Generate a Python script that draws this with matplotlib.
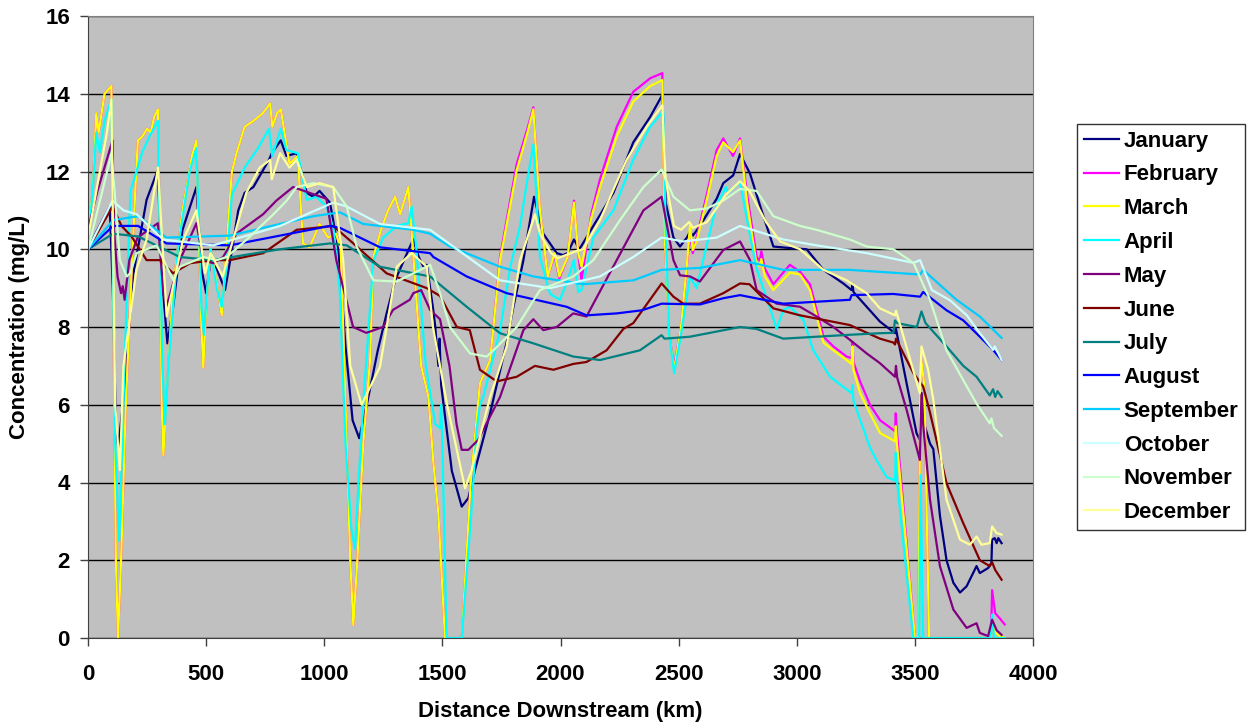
import matplotlib
matplotlib.use("Agg")
import matplotlib.pyplot as plt

months = ["January", "February", "March", "April", "May", "June", "July",
          "August", "September", "October", "November", "December"]
colors = ["#000080", "#FF00FF", "#FFFF00", "#00FFFF", "#800080", "#800000",
          "#008080", "#0000FF", "#00CCFF", "#CCFFFF", "#CCFFCC", "#FFFF99"]

x_ticks = [0, 500, 1000, 1500, 2000, 2500, 3000, 3500, 4000]
y_ticks = [0, 2, 4, 6, 8, 10, 12, 14, 16]

jan_km = [0, 40, 92, 105, 118, 128, 157, 190, 248, 296, 310, 336, 360, 400, 459, 480, 500, 519, 545, 580, 610, 636, 663, 700, 766, 778, 816, 840, 883, 926, 954, 980, 1024, 1060, 1090, 1120, 1148, 1180, 1227, 1264, 1300, 1363, 1377, 1400, 1420, 1434, 1460, 1470, 1483, 1488, 1495, 1540, 1582, 1610, 1638, 1702, 1772, 1800, 1843, 1888, 1927, 1984, 2010, 2030, 2057, 2080, 2139, 2224, 2308, 2379, 2431, 2445, 2478, 2506, 2535, 2548, 2560, 2590, 2661, 2689, 2731, 2760, 2802, 2851, 2901, 2971, 3042, 3113, 3197, 3232, 3236, 3240, 3296, 3352, 3416, 3420, 3465, 3507, 3521, 3528, 3535, 3564, 3578, 3606, 3634, 3663, 3691, 3719, 3761, 3775, 3810, 3824, 3827, 3838, 3846, 3853, 3867]
jan_val = [10.0, 10.5, 11.1, 9.0, 5.5, 4.9, 6.56, 9.3, 11.27, 12.05, 9.5, 7.58, 8.5, 10.5, 11.6, 9.5, 8.87, 9.72, 9.5, 8.95, 10.0, 11.0, 11.45, 11.6, 12.3, 12.47, 12.8, 12.4, 12.47, 11.45, 11.35, 11.5, 11.2, 10.0, 7.5, 5.6, 5.14, 6.0, 7.41, 8.35, 9.2, 10.07, 10.25, 9.8, 9.55, 9.6, 8.5, 8.0, 7.0, 7.7, 6.5, 4.3, 3.38, 3.6, 4.32, 5.78, 7.6, 8.5, 9.72, 11.35, 10.4, 9.9, 9.85, 9.9, 10.25, 10.0, 10.6, 11.45, 12.75, 13.4, 13.97, 11.2, 10.3, 10.07, 10.3, 10.45, 10.35, 10.6, 11.3, 11.7, 11.9, 12.45, 11.95, 11.0, 10.07, 10.03, 10.0, 9.47, 9.12, 8.95, 9.1, 8.9, 8.52, 8.14, 7.84, 7.95, 6.55, 5.27, 5.1, 6.3, 5.6, 5.0, 4.86, 3.15, 2.0, 1.42, 1.17, 1.33, 1.85, 1.67, 1.8, 1.93, 2.53, 2.57, 2.44, 2.57, 2.44]

mar_km = [0, 20, 35, 45, 70, 99, 105, 118, 127, 140, 160, 180, 200, 211, 230, 250, 265, 280, 296, 305, 312, 319, 330, 360, 400, 440, 459, 470, 480, 488, 500, 519, 540, 566, 580, 609, 630, 663, 700, 740, 771, 780, 800, 816, 853, 888, 910, 938, 980, 1016, 1050, 1070, 1090, 1110, 1123, 1140, 1165, 1194, 1208, 1240, 1270, 1300, 1321, 1356, 1375, 1410, 1441, 1462, 1483, 1511, 1582, 1620, 1659, 1702, 1744, 1815, 1860, 1885, 1913, 1946, 1975, 1995, 2030, 2057, 2075, 2089, 2130, 2167, 2238, 2308, 2380, 2431, 2440, 2460, 2481, 2510, 2535, 2548, 2560, 2576, 2619, 2661, 2689, 2730, 2760, 2790, 2830, 2844, 2850, 2865, 2901, 2971, 3014, 3056, 3113, 3155, 3211, 3232, 3236, 3240, 3268, 3310, 3353, 3416, 3419, 3424, 3500, 3515, 3524, 3540, 3560, 3822, 3827, 3840, 3860, 3880]
mar_val = [10.5, 11.5, 13.5, 13.0, 14.0, 14.2, 10.0, 2.0, 0.0, 2.0, 6.0, 8.8, 11.5, 12.8, 12.9, 13.1, 13.0, 13.4, 13.6, 10.0, 6.0, 4.7, 6.0, 9.0, 11.0, 12.4, 12.8, 10.0, 8.0, 6.95, 8.5, 10.0, 9.3, 8.3, 9.5, 12.0, 12.5, 13.15, 13.3, 13.5, 13.75, 13.15, 13.5, 13.6, 12.2, 12.4, 10.15, 10.05, 10.65, 10.3, 10.4, 10.0, 6.0, 2.0, 0.33, 2.0, 5.0, 7.15, 9.8, 10.5, 11.0, 11.35, 10.9, 11.6, 10.0, 7.0, 6.2, 4.5, 3.2, 0.0, 0.0, 4.0, 6.55, 7.15, 9.72, 12.04, 13.0, 13.6, 11.0, 9.3, 9.9, 9.3, 9.8, 11.2, 9.9, 9.55, 10.8, 11.6, 12.9, 13.8, 14.2, 14.35, 10.5, 7.8, 6.9, 8.0, 9.6, 10.6, 9.98, 10.2, 11.27, 12.4, 12.75, 12.5, 12.8, 11.2, 9.6, 9.57, 9.75, 9.3, 8.95, 9.4, 9.35, 8.95, 7.6, 7.4, 7.15, 7.05, 7.5, 6.9, 6.3, 5.78, 5.27, 5.06, 5.45, 5.0, 0.0, 0.0, 7.3, 6.5, 0.0, 0.0, 0.45, 0.15, 0.05, 0.0]

feb_km = mar_km
feb_val = [10.5, 11.5, 13.5, 13.0, 14.0, 14.2, 10.0, 2.0, 0.0, 2.0, 6.0, 8.8, 11.5, 12.8, 12.9, 13.1, 13.0, 13.4, 13.6, 10.0, 6.0, 4.7, 6.0, 9.0, 11.0, 12.4, 12.8, 10.0, 8.0, 6.95, 8.5, 10.0, 9.3, 8.3, 9.5, 12.0, 12.5, 13.15, 13.3, 13.5, 13.75, 13.15, 13.5, 13.6, 12.2, 12.4, 10.15, 10.05, 10.65, 10.3, 10.4, 10.0, 6.0, 2.0, 0.33, 2.0, 5.0, 7.15, 9.8, 10.5, 11.0, 11.35, 10.9, 11.6, 10.0, 7.0, 6.2, 4.5, 3.2, 0.0, 0.0, 4.0, 6.55, 7.15, 9.8, 12.2, 13.1, 13.65, 11.0, 9.3, 9.85, 9.25, 9.8, 11.25, 9.9, 9.2, 10.9, 11.8, 13.15, 14.05, 14.4, 14.53, 10.5, 7.8, 6.98, 8.0, 9.57, 10.4, 9.9, 10.3, 11.4, 12.55, 12.85, 12.4, 12.85, 11.4, 9.8, 9.7, 9.95, 9.5, 9.1, 9.6, 9.42, 9.1, 7.75, 7.5, 7.24, 7.2, 7.6, 7.1, 6.6, 6.0, 5.6, 5.32, 5.78, 5.3, 0.0, 0.0, 7.3, 6.5, 0.0, 0.0, 1.23, 0.64, 0.5, 0.35]

apr_km = [0, 20, 35, 50, 70, 99, 105, 115, 132, 145, 165, 180, 205, 230, 260, 296, 305, 315, 326, 340, 380, 430, 459, 470, 480, 491, 505, 519, 545, 566, 585, 609, 663, 720, 766, 780, 816, 840, 888, 926, 966, 1010, 1040, 1065, 1090, 1115, 1130, 1145, 1166, 1208, 1250, 1307, 1356, 1370, 1390, 1430, 1470, 1490, 1495, 1500, 1518, 1582, 1620, 1645, 1659, 1673, 1744, 1786, 1829, 1860, 1885, 1913, 1956, 1998, 2030, 2057, 2075, 2089, 2139, 2224, 2308, 2379, 2435, 2445, 2460, 2481, 2510, 2548, 2576, 2619, 2661, 2700, 2710, 2760, 2788, 2830, 2886, 2915, 2943, 2971, 3028, 3070, 3141, 3197, 3232, 3236, 3240, 3310, 3338, 3381, 3416, 3419, 3425, 3493, 3518, 3524, 3535, 3820, 3827, 3835, 3880]
apr_val = [10.2, 11.5, 13.0, 12.5, 13.3, 13.85, 10.0, 5.0, 2.5, 5.0, 9.0, 11.5, 12.0, 12.5, 12.9, 13.3, 10.0, 7.0, 5.5, 7.0, 10.0, 12.0, 12.6, 10.5, 8.5, 7.8, 9.0, 10.0, 9.0, 8.52, 9.5, 11.4, 12.1, 12.6, 13.1, 12.4, 13.1, 12.55, 12.47, 11.27, 11.35, 11.1, 10.5, 9.0, 5.0, 2.8, 2.3, 4.0, 6.1, 9.72, 10.3, 10.6, 10.67, 11.1, 10.0, 7.0, 5.5, 5.4, 6.0, 5.0, 0.0, 0.0, 3.0, 5.35, 6.0, 6.2, 7.9, 9.5, 10.6, 11.8, 12.7, 9.8, 8.85, 8.7, 9.2, 9.72, 8.9, 8.95, 10.3, 11.0, 12.3, 13.15, 13.55, 10.5, 7.8, 6.81, 7.8, 9.3, 9.0, 10.1, 11.15, 11.6, 11.45, 11.74, 10.8, 9.5, 8.5, 7.95, 8.44, 8.52, 8.18, 7.4, 6.72, 6.46, 6.3, 6.5, 6.1, 4.9, 4.57, 4.14, 4.05, 4.76, 4.0, 0.0, 0.0, 4.19, 0.0, 0.0, 0.6, 0.0, 0.0]

may_km = [0, 40, 104, 110, 125, 140, 147, 155, 175, 210, 296, 319, 332, 389, 459, 488, 530, 572, 628, 741, 797, 868, 938, 1009, 1051, 1122, 1178, 1249, 1291, 1362, 1377, 1410, 1448, 1490, 1530, 1560, 1582, 1610, 1652, 1744, 1843, 1885, 1927, 1984, 2054, 2110, 2238, 2351, 2428, 2478, 2506, 2548, 2590, 2689, 2760, 2802, 2830, 2915, 3014, 3084, 3155, 3225, 3296, 3352, 3416, 3420, 3425, 3465, 3521, 3528, 3535, 3564, 3606, 3663, 3719, 3761, 3775, 3810, 3827, 3846, 3867]
may_val = [10.5, 11.5, 12.8, 10.5, 9.3, 8.87, 9.05, 8.7, 9.72, 10.3, 10.67, 8.87, 8.52, 9.72, 10.67, 9.72, 9.64, 9.8, 10.4, 10.9, 11.25, 11.6, 11.45, 11.3, 9.72, 8.0, 7.85, 8.0, 8.44, 8.7, 8.87, 8.95, 8.44, 8.2, 7.0, 5.5, 4.84, 4.84, 5.1, 6.2, 7.92, 8.2, 7.92, 8.0, 8.35, 8.27, 9.72, 11.0, 11.35, 9.72, 9.33, 9.3, 9.17, 9.98, 10.2, 9.72, 8.95, 8.6, 8.52, 8.27, 8.0, 7.67, 7.32, 7.07, 6.72, 7.0, 6.7, 5.87, 4.58, 6.3, 5.5, 3.56, 1.85, 0.73, 0.26, 0.38, 0.13, 0.05, 0.47, 0.2, 0.08]

jun_km = [0, 104, 142, 184, 248, 304, 360, 431, 530, 600, 742, 883, 1038, 1123, 1264, 1434, 1490, 1561, 1616, 1659, 1730, 1815, 1892, 1970, 2054, 2110, 2195, 2266, 2308, 2428, 2478, 2520, 2590, 2689, 2760, 2800, 2901, 3014, 3225, 3352, 3409, 3416, 3420, 3493, 3535, 3564, 3634, 3705, 3775, 3817, 3827, 3840, 3867]
jun_val = [10.0, 11.1, 10.6, 10.33, 9.72, 9.72, 9.38, 9.64, 9.72, 9.72, 9.9, 10.5, 10.6, 10.15, 9.38, 9.0, 8.8, 8.0, 7.92, 6.9, 6.6, 6.72, 7.0, 6.9, 7.05, 7.1, 7.4, 7.95, 8.1, 9.12, 8.78, 8.6, 8.6, 8.87, 9.12, 9.1, 8.48, 8.3, 8.05, 7.7, 7.6, 7.55, 7.7, 6.82, 6.47, 5.8, 3.98, 2.95, 2.0, 1.85, 1.95, 1.75, 1.5]

jul_km = [0, 107, 212, 389, 530, 813, 1024, 1095, 1236, 1448, 1603, 1744, 1885, 2054, 2167, 2336, 2428, 2440, 2548, 2760, 2830, 2943, 3225, 3352, 3409, 3416, 3425, 3508, 3528, 3545, 3634, 3705, 3761, 3817, 3831, 3840, 3850, 3867]
jul_val = [10.0, 10.4, 10.33, 9.8, 9.72, 10.0, 10.15, 10.1, 9.55, 9.3, 8.52, 7.84, 7.58, 7.24, 7.15, 7.4, 7.79, 7.7, 7.75, 8.0, 7.95, 7.7, 7.8, 7.84, 7.85, 8.17, 8.1, 8.0, 8.4, 8.1, 7.5, 7.0, 6.72, 6.24, 6.4, 6.2, 6.35, 6.2]

aug_km = [0, 107, 212, 332, 600, 1024, 1066, 1236, 1448, 1462, 1603, 1772, 2026, 2110, 2238, 2345, 2428, 2590, 2689, 2760, 2943, 3225, 3232, 3409, 3522, 3535, 3634, 3705, 3775, 3831, 3867]
aug_val = [10.0, 10.6, 10.6, 10.15, 10.1, 10.6, 10.55, 10.05, 9.9, 9.8, 9.3, 8.87, 8.52, 8.3, 8.35, 8.43, 8.6, 8.58, 8.74, 8.82, 8.6, 8.7, 8.82, 8.85, 8.78, 8.9, 8.43, 8.17, 7.75, 7.41, 7.15]

sep_km = [0, 107, 212, 332, 600, 954, 1066, 1165, 1377, 1448, 1532, 1744, 1885, 2096, 2308, 2428, 2590, 2760, 2943, 3225, 3522, 3535, 3676, 3775, 3867]
sep_val = [10.0, 10.75, 10.85, 10.3, 10.35, 10.85, 10.95, 10.65, 10.5, 10.4, 10.07, 9.55, 9.3, 9.1, 9.2, 9.47, 9.52, 9.72, 9.47, 9.47, 9.35, 9.47, 8.7, 8.27, 7.72]

oct_km = [0, 104, 150, 206, 318, 530, 813, 1038, 1095, 1236, 1448, 1744, 1956, 2167, 2308, 2428, 2520, 2661, 2760, 2943, 3084, 3296, 3494, 3522, 3572, 3648, 3720, 3775, 3831, 3838, 3867]
oct_val = [10.0, 11.25, 11.0, 10.9, 10.25, 10.1, 10.6, 11.2, 11.1, 10.65, 10.5, 9.2, 9.0, 9.3, 9.8, 10.3, 10.2, 10.3, 10.6, 10.25, 10.1, 9.9, 9.65, 9.72, 8.95, 8.69, 8.3, 7.84, 7.41, 7.5, 7.15]

nov_km = [0, 100, 135, 164, 178, 206, 291, 347, 361, 389, 488, 545, 587, 672, 785, 841, 883, 954, 1038, 1095, 1137, 1208, 1307, 1377, 1448, 1490, 1532, 1617, 1688, 1716, 1815, 1913, 2054, 2139, 2252, 2351, 2428, 2478, 2548, 2619, 2689, 2760, 2830, 2901, 3014, 3084, 3225, 3296, 3409, 3494, 3564, 3634, 3705, 3761, 3817, 3824, 3835, 3867]
nov_val = [10.0, 12.47, 9.72, 9.3, 9.38, 9.9, 10.1, 9.38, 9.2, 9.55, 9.8, 9.72, 9.8, 10.25, 10.9, 11.25, 11.6, 11.7, 11.6, 11.1, 10.07, 9.2, 9.17, 9.38, 9.6, 8.87, 8.0, 7.32, 7.24, 7.4, 8.0, 8.95, 9.3, 9.72, 10.75, 11.6, 12.05, 11.35, 11.0, 11.05, 11.25, 11.55, 11.5, 10.85, 10.6, 10.5, 10.25, 10.07, 10.0, 9.65, 8.7, 7.4, 6.63, 6.03, 5.52, 5.65, 5.4, 5.2]

dec_km = [0, 50, 80, 99, 105, 115, 135, 150, 205, 248, 296, 333, 400, 459, 495, 519, 570, 670, 727, 771, 778, 813, 853, 883, 926, 980, 1038, 1080, 1110, 1158, 1236, 1307, 1370, 1434, 1460, 1520, 1596, 1624, 1659, 1702, 1772, 1829, 1892, 1913, 1960, 1988, 2061, 2096, 2167, 2280, 2365, 2431, 2445, 2480, 2510, 2545, 2560, 2620, 2700, 2760, 2800, 2870, 2930, 3014, 3113, 3211, 3296, 3352, 3416, 3420, 3521, 3528, 3556, 3578, 3634, 3691, 3733, 3761, 3782, 3817, 3827, 3846, 3867]
dec_val = [10.3, 12.0, 13.0, 13.85, 11.0, 6.0, 4.32, 7.0, 9.47, 10.25, 12.1, 8.27, 10.2, 11.0, 9.38, 9.9, 9.3, 11.45, 12.1, 12.3, 11.8, 12.47, 12.1, 12.3, 11.6, 11.7, 11.6, 9.72, 7.0, 6.0, 6.98, 9.55, 9.9, 9.55, 8.0, 6.0, 3.85, 4.32, 5.18, 6.2, 7.5, 9.72, 10.9, 10.4, 9.9, 9.77, 9.94, 10.0, 10.75, 12.3, 13.15, 13.7, 11.8, 10.6, 10.5, 10.7, 10.55, 10.7, 11.4, 11.75, 11.5, 10.7, 10.2, 10.0, 9.47, 9.2, 8.87, 8.48, 8.3, 8.42, 6.3, 7.5, 6.9, 6.13, 3.56, 2.53, 2.4, 2.61, 2.4, 2.44, 2.87, 2.7, 2.66]

series = [(jan_km, jan_val), (feb_km, feb_val), (mar_km, mar_val), (apr_km, apr_val),
          (may_km, may_val), (jun_km, jun_val), (jul_km, jul_val), (aug_km, aug_val),
          (sep_km, sep_val), (oct_km, oct_val), (nov_km, nov_val), (dec_km, dec_val)]

plt.rcParams['font.family'] = ['Liberation Sans', 'DejaVu Sans']
plt.rcParams['font.weight'] = 'bold'

FS = 16
W, H = 1257, 727
fig = plt.figure(figsize=(W / 100, H / 100), dpi=100)
ax = fig.add_axes([88 / W, 1 - 638 / H, (1033 - 88) / W, (638 - 16) / H])
ax.set_facecolor("#C0C0C0")

for (km, val), name, c in zip(series, months, colors):
    ax.plot(km, val, color=c, lw=1.6, label=name, solid_joinstyle='round')

ax.set_xlim(0, 4000)
ax.set_ylim(0, 16)
ax.set_xticks(x_ticks)
ax.set_yticks(y_ticks)
ax.set_xticklabels([str(t) for t in x_ticks])
ax.set_yticklabels([str(t) for t in y_ticks])
ax.yaxis.grid(True, color="black", lw=1.0)
ax.set_axisbelow(True)
ax.tick_params(axis='y', length=6, width=1, pad=7, labelsize=FS, color="#404040")
ax.tick_params(axis='x', length=6, width=1, pad=13, labelsize=FS, color="#404040")
for lab in ax.get_xticklabels() + ax.get_yticklabels():
    lab.set_fontweight('bold')
ax.spines['left'].set_color("#404040")
ax.spines['bottom'].set_color("#404040")
ax.spines['top'].set_color("#808080")
ax.spines['right'].set_color("#808080")

fig.text(20 / W, 1 - 327 / H, "Concentration (mg/L)", rotation=90, ha='center', va='center',
         fontsize=FS, fontweight='bold')
fig.text((88 + 1033) / 2 / W, 1 - 712 / H, "Distance Downstream (km)", ha='center', va='center',
         fontsize=FS, fontweight='bold')

leg = fig.legend(loc='upper left', bbox_to_anchor=(1077 / W, 1 - 124 / H), frameon=True,
                 fancybox=False, edgecolor='black', borderaxespad=0, fontsize=FS,
                 handlelength=1.6, handletextpad=0.2, labelspacing=0.575, borderpad=0.3)
leg.get_frame().set_linewidth(1.0)
for t in leg.get_texts():
    t.set_fontweight('bold')

fig.savefig("out.png", dpi=100)
